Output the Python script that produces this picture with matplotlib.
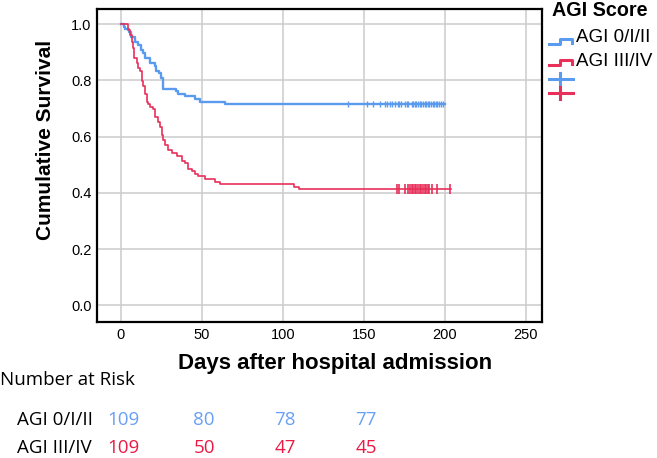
import matplotlib
matplotlib.use("Agg")
import matplotlib.pyplot as plt
import matplotlib.transforms as mtrans
from matplotlib.lines import Line2D

# ---- data ----
blue_t = [0, 2, 3, 5.3, 6.5, 9, 11, 12.3, 13.6, 15, 18, 21, 22, 23.7, 25, 26.3,
          34, 35.6, 39.7, 46, 49, 64.4, 200]
blue_s = [1.0, 0.991, 0.982, 0.972, 0.954, 0.936, 0.927, 0.908, 0.899, 0.881, 0.862,
          0.853, 0.835, 0.826, 0.807, 0.771, 0.762, 0.752, 0.743, 0.734, 0.725, 0.716, 0.716]
red_t = [0, 4.7, 5.7, 6.8, 7.3, 7.7, 8.2, 9.9, 10.9, 11.9, 13, 13.8, 14.9, 16, 17, 18.1,
         20, 21.2, 23.2, 24.3, 25.3, 26.3, 27.4, 29.4, 31.5, 34.6, 37.7, 39.7, 41.8,
         43.8, 45.9, 47.9, 52, 58.2, 61.3, 107, 110, 204]
red_s = [1.0, 0.981, 0.963, 0.945, 0.936, 0.917, 0.881, 0.862, 0.844, 0.835, 0.798, 0.780,
         0.752, 0.725, 0.716, 0.706, 0.697, 0.670, 0.651, 0.633, 0.606, 0.587, 0.569, 0.551,
         0.541, 0.532, 0.514, 0.505, 0.486, 0.477, 0.468, 0.459, 0.450, 0.440, 0.431, 0.422,
         0.413, 0.413]
blue_cens = [140.5, 151.8, 156, 160, 163, 164.5, 166, 167.5, 169, 171, 172, 173, 175.5,
             176.5, 177.5, 179.5, 180.5, 181.5, 182.5, 183.5, 184.5, 185.5, 186.5, 187.5,
             188.5, 189.5, 190.5, 191.5, 192.5, 193.5, 194.5, 195.5, 196.5, 197.5, 199]
red_cens = [170.3, 171.5, 175.5, 177.5, 178.5, 179.5, 180.5, 181.5, 182.5, 183.5, 184.5,
            185.5, 186.5, 187.5, 188.5, 189.5, 190.5, 192, 195, 203.3]
groups = ["AGI 0/I/II", "AGI III/IV"]
risk_days = [0, 50, 100, 150]
risk_blue = [109, 80, 78, 77]
risk_red = [109, 50, 47, 45]
xticks = [0, 50, 100, 150, 200, 250]
yticks = [0.0, 0.2, 0.4, 0.6, 0.8, 1.0]

BLUE = "#5b9bef"
RED = "#e8305a"
NBLUE = "#6a9ff5"
NRED = "#ea1a45"

W, H = 657, 458
fig = plt.figure(figsize=(W / 100, H / 100), dpi=100)
plt.rcParams['font.family'] = ['Liberation Sans', 'DejaVu Sans']

def fx(px):
    return px / W

def fy(py):
    return 1 - py / H

ax = fig.add_axes([fx(97.3), fy(322), fx(542) - fx(97.3), fy(9) - fy(322)])
ax.set_xlim(-14.4, 260)
ax.set_ylim(-0.059, 1.054)
ax.set_xticks(xticks)
ax.set_yticks(yticks)
ax.set_xticklabels([str(v) for v in xticks], fontsize=10.5)
ax.set_yticklabels([f"{v:.1f}" for v in yticks], fontsize=10.5)
ax.tick_params(axis="x", length=0, pad=4)
ax.tick_params(axis="y", length=0, pad=4)
ax.grid(True, color="#cccccc", linewidth=1.1)
ax.set_axisbelow(True)
for s in ax.spines.values():
    s.set_linewidth(1.6)
    s.set_color("black")

ax.step(blue_t, blue_s, where="post", color=BLUE, lw=1.7)
ax.step(red_t, red_s, where="post", color=RED, lw=1.2)
ax.plot(blue_cens, [blue_s[-1]] * len(blue_cens), ls="none", marker="|", ms=5,
        mew=1.0, color=BLUE)
ax.plot(red_cens, [red_s[-1]] * len(red_cens), ls="none", marker="|", ms=6.5,
        mew=1.2, color=RED)

# axis titles (placed as in the reference, not centred on the axes)
fig.text(fx(335), fy(363), "Days after hospital admission", fontsize=16, fontweight="bold",
         va="center", ha="center")
fig.text(fx(46), fy(140), "Cumulative Survival", fontsize=15, fontweight="bold",
         va="center", ha="center", rotation=90)

# ---- legend (drawn manually) ----
fig.text(fx(552), fy(11), "AGI Score", fontsize=14.2, fontweight="bold", va="center", ha="left")
fig.text(fx(576), fy(38), groups[0], fontsize=13.5, va="center", ha="left")
fig.text(fx(576), fy(61), groups[1], fontsize=13.5, va="center", ha="left")
for c, y0 in [(BLUE, 44), (RED, 65)]:
    xs = [549, 560, 560, 572, 572]
    ys = [y0, y0, y0 - 5, y0 - 5, y0 - 1]
    fig.add_artist(Line2D([fx(v) for v in xs], [fy(v) for v in ys], color=c, lw=2.2))
for c, y0 in [(BLUE, 79), (RED, 93)]:
    fig.add_artist(Line2D([fx(549), fx(573)], [fy(y0), fy(y0)], color=c, lw=2.2))
    fig.add_artist(Line2D([fx(560), fx(560)], [fy(y0 - 6), fy(y0 + 6)], color=c, lw=2.2))

# ---- number at risk ----
rfont = ['Open Sans', 'DejaVu Sans']
fs = 13.5
fig.text(fx(0), fy(380), "Number at Risk", fontsize=fs, va="center", ha="left", family=rfont)
fig.text(fx(17), fy(420), groups[0], fontsize=fs, va="center", ha="left", family=rfont)
fig.text(fx(17), fy(448), groups[1], fontsize=fs, va="center", ha="left", family=rfont)
tr = mtrans.blended_transform_factory(ax.transData, fig.transFigure)
for d, b, r in zip(risk_days, risk_blue, risk_red):
    fig.text(d + 1.5, fy(420), str(b), transform=tr, fontsize=fs, va="center", ha="center",
             color=NBLUE, family=rfont)
    fig.text(d + 1.5, fy(448), str(r), transform=tr, fontsize=fs, va="center", ha="center",
             color=NRED, family=rfont)

fig.savefig("out.png", dpi=100)
